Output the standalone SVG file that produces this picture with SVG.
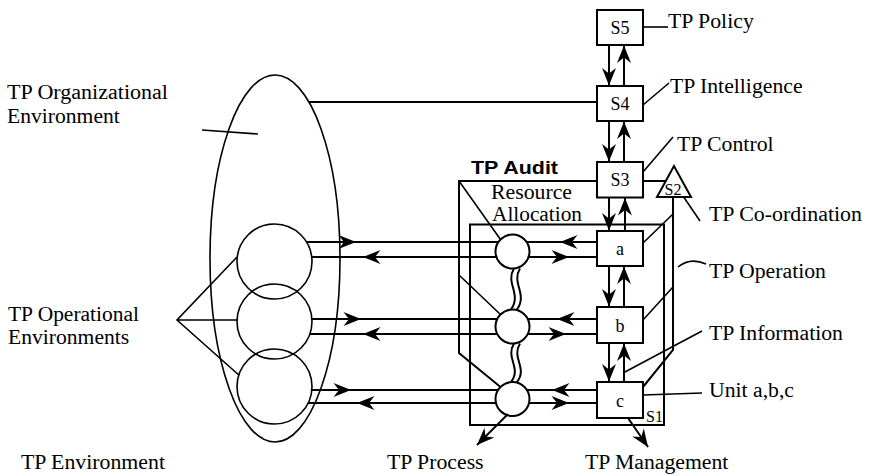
<svg xmlns="http://www.w3.org/2000/svg" width="870" height="476" viewBox="0 0 870 476">
  <style>
    .ln { fill: none; stroke: #000; stroke-width: 2; }
    .thin { fill: none; stroke: #000; stroke-width: 1.6; }
    .box { fill: #fff; stroke: #000; stroke-width: 2; }
    .t { font-family: "Liberation Serif", "Times New Roman", serif; font-size: 20px; fill: #000; }
    .bl { font-family: "Liberation Serif", "Times New Roman", serif; font-size: 18px; fill: #000; text-anchor: middle; }
    .sm { font-family: "Liberation Serif", "Times New Roman", serif; font-size: 16px; fill: #000; }
    .bold { font-family: "Liberation Sans", Arial, sans-serif; font-size: 19px; font-weight: bold; fill: #000; }
  </style>
  <defs>
    <path id="ah" d="M0,0 L-17.5,-7 L-12,0 L-17.5,7 Z" fill="#000"/>
    <marker id="arr" markerUnits="userSpaceOnUse" markerWidth="19" markerHeight="16" viewBox="-18 -8 19 16" refX="0" refY="0" orient="auto">
      <path d="M0,0 L-17.5,-7 L-12,0 L-17.5,7 Z" fill="#000"/>
    </marker>
  </defs>
  <rect width="870" height="476" fill="#fff"/>

  <!-- organisational environment -->
  <g id="environment">
    <ellipse cx="275" cy="258.5" rx="65" ry="183.5" class="thin"/>
    <path d="M202,130 L258,134" class="thin"/>
  </g>

  <!-- operational environments -->
  <g id="op-environments">
    <circle cx="274.5" cy="261.5" r="37.5" class="thin"/>
    <circle cx="274.5" cy="321.5" r="37.5" class="thin"/>
    <circle cx="274.5" cy="386.5" r="37.5" class="thin"/>
  </g>

  <!-- S1 operation frame -->
  <g id="S1">
    <rect x="470" y="224.5" width="194" height="200.5" class="ln"/>
    <text x="646" y="421.5" class="sm">S1</text>
  </g>

  <g id="connectors">
    <!-- vertical command channels -->
    <line x1="609" y1="45" x2="609" y2="85.5" class="ln" marker-end="url(#arr)"/>
    <line x1="624" y1="86" x2="624" y2="45.5" class="ln" marker-end="url(#arr)"/>
    <line x1="609" y1="121" x2="609" y2="161.5" class="ln" marker-end="url(#arr)"/>
    <line x1="624" y1="161.5" x2="624" y2="121.5" class="ln" marker-end="url(#arr)"/>
    <line x1="609" y1="197.5" x2="609" y2="230.5" class="ln" marker-end="url(#arr)"/>
    <line x1="625" y1="230.5" x2="625" y2="198" class="ln" marker-end="url(#arr)"/>
    <line x1="609" y1="266" x2="609" y2="306.5" class="ln" marker-end="url(#arr)"/>
    <line x1="624" y1="307" x2="624" y2="266.5" class="ln" marker-end="url(#arr)"/>
    <line x1="609" y1="343" x2="609" y2="381.5" class="ln" marker-end="url(#arr)"/>
    <line x1="624" y1="382" x2="624" y2="343.5" class="ln" marker-end="url(#arr)"/>

    <!-- horizontal exchange lines -->
    <path d="M306.5,242 H498.5 M526.4,242 H597 M311.7,257 H496.3 M528.7,257 H597" class="ln"/>
    <path d="M312,319 H497.2 M527.8,319 H597 M310,334 H497.2 M527.8,334 H597" class="ln"/>
    <path d="M312,390 H498.1 M526.9,390 H597 M308,403 H496 M529,403 H597" class="ln"/>
    <use href="#ah" transform="translate(356,242)"/>
    <use href="#ah" transform="translate(363,257) rotate(180)"/>
    <use href="#ah" transform="translate(560,242) rotate(180)"/>
    <use href="#ah" transform="translate(569,257)"/>
    <use href="#ah" transform="translate(361,319)"/>
    <use href="#ah" transform="translate(363,334) rotate(180)"/>
    <use href="#ah" transform="translate(557,319) rotate(180)"/>
    <use href="#ah" transform="translate(566,334)"/>
    <use href="#ah" transform="translate(351,390)"/>
    <use href="#ah" transform="translate(357,403) rotate(180)"/>
    <use href="#ah" transform="translate(552,390) rotate(180)"/>
    <use href="#ah" transform="translate(569,403)"/>

    <!-- audit channel -->
    <path d="M597,181 H459 V353 L500.5,387" class="ln"/>
    <path d="M459,181 L500.5,239.5 M459,275 L500.5,314.5" class="thin"/>

    <!-- environment link -->
    <path d="M309,102 H597" class="ln"/>

    <!-- operational environments pointer -->
    <path d="M237,257 L177,320 L238.8,375 M177,320 H237" class="thin"/>

    <!-- co-ordination -->
    <path d="M643,181 H666" class="ln"/>
    <path d="M673,197 V350 L643,387" class="ln"/>
    <path d="M643,243 L673,214 M643,320 L673,287" class="thin"/>

    <!-- label pointers -->
    <path d="M643,27 H668" class="thin"/>
    <path d="M643,105 L669,83" class="thin"/>
    <path d="M643,172 L673,137" class="thin"/>
    <path d="M683,196 L700,221" class="thin"/>
    <path d="M678,267 Q690,257 706,264" class="thin"/>
    <path d="M623,373 L702,331" class="thin"/>
    <path d="M643,395 L702,393" class="thin"/>

    <!-- outputs -->
    <line x1="507" y1="415" x2="477" y2="445" class="ln" marker-end="url(#arr)"/>
    <line x1="628" y1="418" x2="648" y2="447" class="ln" marker-end="url(#arr)"/>

    <!-- resource bargain links -->
    <path d="M514,268.5 C505,283 522,294 511,309.5 M520,268.5 C511,283 528,294 517,309.5" class="ln"/>
    <path d="M514,343.5 C505,358 522,368 511,382 M520,343.5 C511,358 528,368 517,382" class="ln"/>
  </g>

  <!-- resource allocation units -->
  <g id="ra-units">
    <circle cx="512.5" cy="251.5" r="17" class="box"/>
    <circle cx="512.5" cy="326.5" r="17" class="box"/>
    <circle cx="512.5" cy="399" r="17" class="box"/>
  </g>

  <g id="S5">
    <rect x="597" y="10" width="46" height="35" class="box"/>
    <text x="620" y="34" class="bl">S5</text>
  </g>
  <g id="S4">
    <rect x="597" y="86" width="46" height="35" class="box"/>
    <text x="620" y="110" class="bl">S4</text>
  </g>
  <g id="S3">
    <rect x="597" y="162" width="46" height="35.5" class="box"/>
    <text x="620" y="186" class="bl">S3</text>
  </g>
  <g id="S2">
    <path d="M674,166 L657,197 L691,197 Z" class="box"/>
    <text x="673" y="194.5" class="sm" text-anchor="middle">S2</text>
  </g>
  <g id="unit-a">
    <rect x="597" y="231" width="46" height="35" class="box"/>
    <text x="620" y="255" class="bl">a</text>
  </g>
  <g id="unit-b">
    <rect x="597" y="307" width="46" height="36" class="box"/>
    <text x="620" y="331.5" class="bl">b</text>
  </g>
  <g id="unit-c">
    <rect x="597" y="382" width="46" height="36" class="box"/>
    <text x="620" y="406.5" class="bl">c</text>
  </g>

  <g id="labels">
    <text x="668" y="27.5" class="t" textLength="85.8" lengthAdjust="spacingAndGlyphs">TP Policy</text>
    <text x="670" y="93" class="t" textLength="132.6" lengthAdjust="spacingAndGlyphs">TP Intelligence</text>
    <text x="677" y="151" class="t" textLength="96.6" lengthAdjust="spacingAndGlyphs">TP Control</text>
    <text x="709" y="221" class="t" textLength="153" lengthAdjust="spacingAndGlyphs">TP Co-ordination</text>
    <text x="709" y="278" class="t" textLength="117" lengthAdjust="spacingAndGlyphs">TP Operation</text>
    <text x="709" y="340" class="t" textLength="134" lengthAdjust="spacingAndGlyphs">TP Information</text>
    <text x="709" y="397" class="t" textLength="85" lengthAdjust="spacingAndGlyphs">Unit a,b,c</text>
    <text x="585" y="468.5" class="t" textLength="143.4" lengthAdjust="spacingAndGlyphs">TP Management</text>
    <text x="387" y="468.5" class="t" textLength="96.6" lengthAdjust="spacingAndGlyphs">TP Process</text>
    <text x="21" y="469" class="t" textLength="144" lengthAdjust="spacingAndGlyphs">TP Environment</text>
    <text x="7" y="99" class="t" textLength="161" lengthAdjust="spacingAndGlyphs">TP Organizational</text>
    <text x="7" y="123" class="t" textLength="112.8" lengthAdjust="spacingAndGlyphs">Environment</text>
    <text x="8" y="320.5" class="t" textLength="131" lengthAdjust="spacingAndGlyphs">TP Operational</text>
    <text x="8" y="344" class="t" textLength="121.2" lengthAdjust="spacingAndGlyphs">Environments</text>
    <text x="491" y="199" class="t" textLength="81" lengthAdjust="spacingAndGlyphs">Resource</text>
    <text x="492" y="221" class="t" textLength="90" lengthAdjust="spacingAndGlyphs">Allocation</text>
    <text x="471" y="174" class="bold" textLength="87" lengthAdjust="spacingAndGlyphs">TP Audit</text>
  </g>
</svg>
